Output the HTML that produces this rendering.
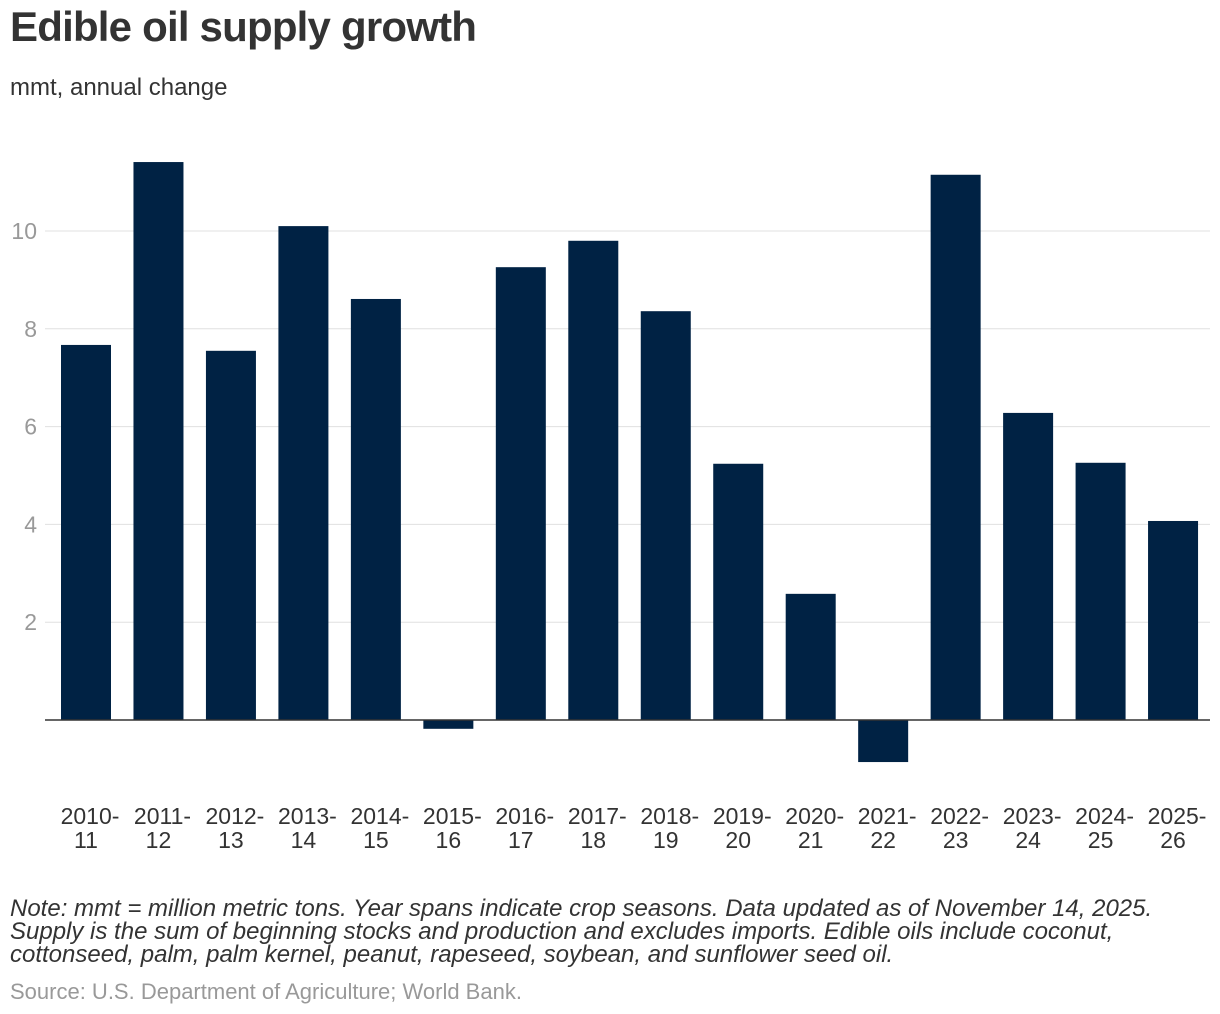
<!DOCTYPE html>
<html><head><meta charset="utf-8"><style>
body{margin:0;background:#fff;font-family:"Liberation Sans",Arial,sans-serif;}
#wrap{position:relative;width:1220px;height:1014px;overflow:hidden}
.t{position:absolute;left:10px;white-space:nowrap}
</style></head><body>
<div id="wrap">
<div class="t" style="top:3px;font-size:42px;font-weight:bold;color:#333;letter-spacing:-0.8px">Edible oil supply growth</div>
<div class="t" style="top:74px;font-size:24px;color:#333">mmt, annual change</div>
<svg id="chart" width="1220" height="880" style="position:absolute;left:0;top:0"></svg>
<div class="t" style="top:897px;font-size:24px;font-style:italic;color:#333;line-height:23px">Note: mmt = million metric tons. Year spans indicate crop seasons. Data updated as of November 14, 2025.<br>Supply is the sum of beginning stocks and production and excludes imports. Edible oils include coconut,<br>cottonseed, palm, palm kernel, peanut, rapeseed, soybean, and sunflower seed oil.</div>
<div class="t" style="top:979px;font-size:22px;color:#999">Source: U.S. Department of Agriculture; World Bank.</div>
</div>
<script>
const categories=["2010-11","2011-12","2012-13","2013-14","2014-15","2015-16","2016-17","2017-18","2018-19","2019-20","2020-21","2021-22","2022-23","2023-24","2024-25","2025-26"];
const values=[7.67,11.41,7.55,10.10,8.61,-0.18,9.26,9.80,8.36,5.24,2.58,-0.86,11.15,6.28,5.26,4.07];
const yTicks=[2,4,6,8,10];
const NS="http://www.w3.org/2000/svg";
const svg=document.getElementById('chart');
const y0=720,pxPer=48.9;
const y=v=>y0-v*pxPer;
const xStart=61,step=72.47,bw=50;
const x=i=>xStart+i*step;
function mk(tag,attrs){const e=document.createElementNS(NS,tag);for(const k in attrs)e.setAttribute(k,attrs[k]);svg.appendChild(e);return e;}
yTicks.forEach(t=>{
 const l=mk('line',{x1:45,x2:1210,y1:y(t),y2:y(t),stroke:'#e0e0e0','stroke-width':1});
 
 
 const tx=mk('text',{x:37,y:y(t)+8,'text-anchor':'end','font-size':23,fill:'#999','font-family':'Liberation Sans, Arial, sans-serif'});
 tx.textContent=t;
 
 
});
values.forEach((v,i)=>{
 const r=mk('rect',{x:x(i),y:Math.min(y(v),y0),width:bw,height:Math.abs(v*pxPer),fill:'#002244'});
 
 
 const parts=categories[i].split('-');
 const t1=mk('text',{x:x(i)+bw/2+4,y:824,'text-anchor':'middle','font-size':23,fill:'#333','font-family':'Liberation Sans, Arial, sans-serif'});
 t1.textContent=parts[0]+'-';
 
 
 const t2=mk('text',{x:x(i)+bw/2,y:848,'text-anchor':'middle','font-size':23,fill:'#333','font-family':'Liberation Sans, Arial, sans-serif'});
 t2.textContent=parts[1];
 
 
});
const z=mk('line',{x1:45,x2:1210,y1:y0,y2:y0,stroke:'#333','stroke-width':1.5});


</script>
</body></html>
